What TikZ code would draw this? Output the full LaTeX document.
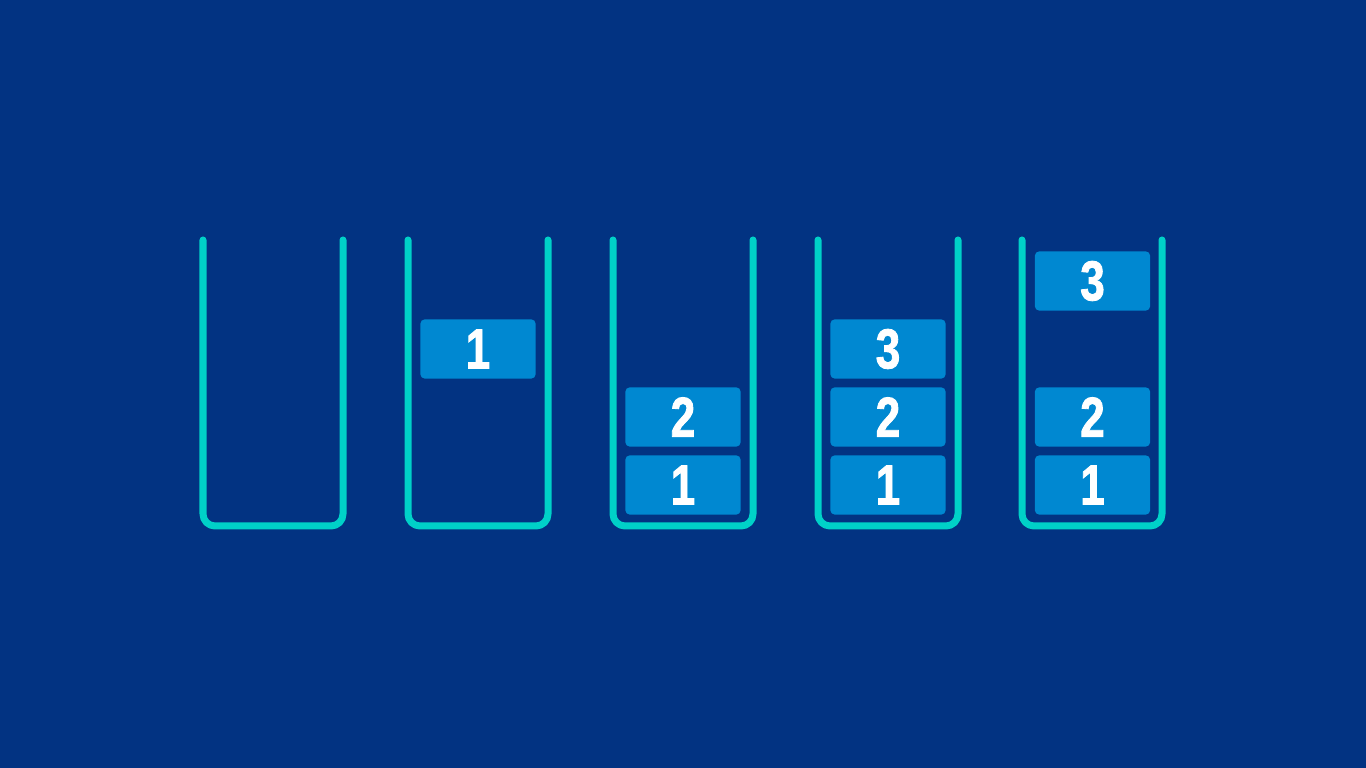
\documentclass[tikz,border=0pt]{standalone}
\usepackage{fontspec}
\newfontfamily\numfont[FakeStretch=0.78,FakeBold=1.5]{Liberation Sans Bold}
\definecolor{bgblue}{RGB}{2,51,130}
\definecolor{cupcyan}{RGB}{0,209,200}
\definecolor{boxblue}{RGB}{0,136,209}
\begin{document}
\begin{tikzpicture}[x=0.01cm,y=-0.01cm,
  cup/.style={draw=cupcyan,line width=0.07cm,line cap=round,line join=round,rounded corners=0.12cm},
  item/.style={fill=boxblue,rounded corners=0.04cm,minimum width=1.15cm,minimum height=0.59cm,inner sep=0pt,text=white,font=\numfont\fontsize{16}{16}\selectfont}]
\fill[bgblue] (0,0) rectangle (1366,768);
\useasboundingbox (0,0) rectangle (1366,768);
\foreach \i/\x in {1/203,2/408,3/613,4/818,5/1022}{
  \draw[cup] (\x,240) coordinate (c\i tl) -- (\x,526) -- (\x+140,526) -- (\x+140,240) coordinate (c\i tr);
}
% cup 2
\node[item] (b2a) at (478,349) {1};
% cup 3
\node[item] (b3a) at (683,485) {1};
\node[item] (b3b) at (683,417) {2};
% cup 4
\node[item] (b4a) at (888,485) {1};
\node[item] (b4b) at (888,417) {2};
\node[item] (b4c) at (888,349) {3};
% cup 5
\node[item] (b5a) at (1092.5,485) {1};
\node[item] (b5b) at (1092.5,417) {2};
\node[item] (b5c) at (1092.5,281) {3};
\end{tikzpicture}
\end{document}
